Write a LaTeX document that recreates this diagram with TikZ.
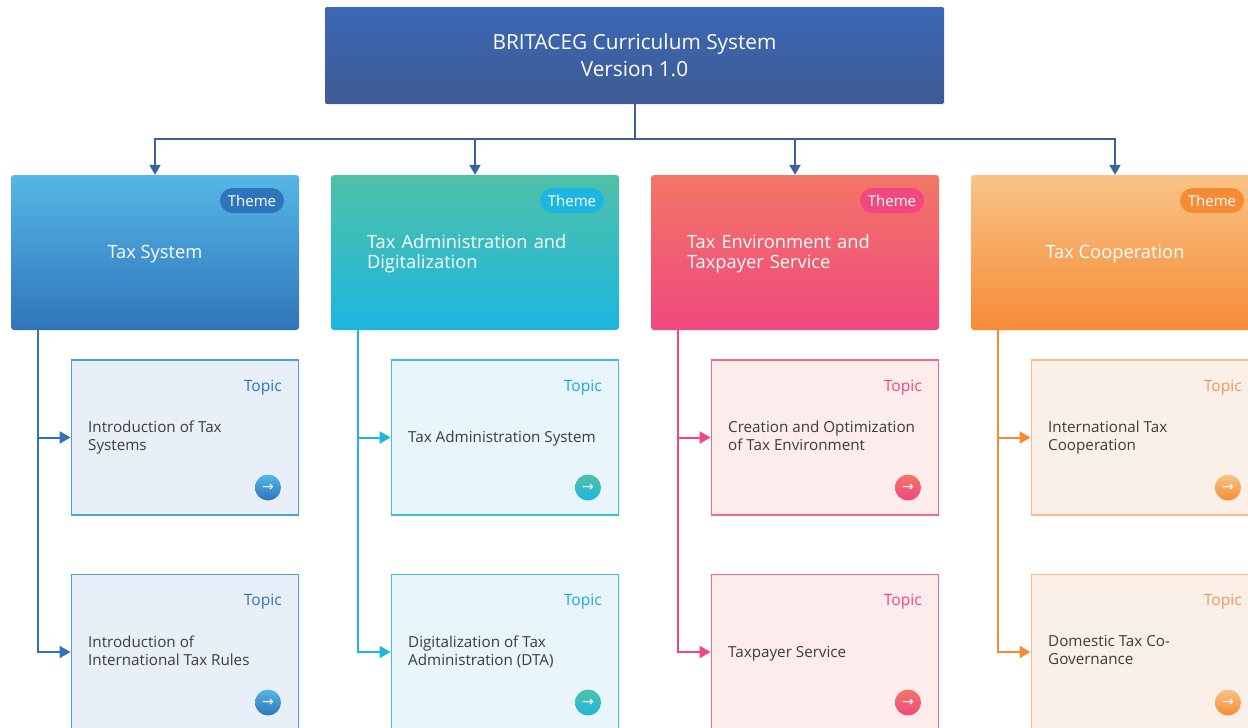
\documentclass[tikz,border=0pt]{standalone}
\usepackage{fontspec}
\setmainfont{Open Sans}
\newfontfamily\arrowfont{DejaVu Sans}
\usetikzlibrary{arrows.meta}
\definecolor{rootlight}{HTML}{3B68B5}
\definecolor{rootdark}{HTML}{3F5A93}
\definecolor{sysdark}{HTML}{2F74BB}
\definecolor{syslight}{HTML}{55B7E6}
\definecolor{sysfill}{HTML}{E9EFF9}
\definecolor{sysedge}{HTML}{4FA3D3}
\definecolor{admdark}{HTML}{1DB6E0}
\definecolor{admlight}{HTML}{4FC1A8}
\definecolor{admfill}{HTML}{E8F5FA}
\definecolor{admedge}{HTML}{3FC0D4}
\definecolor{envdark}{HTML}{F0487F}
\definecolor{envlight}{HTML}{F37666}
\definecolor{envfill}{HTML}{FCECEC}
\definecolor{envedge}{HTML}{EF6A88}
\definecolor{coodark}{HTML}{F68B36}
\definecolor{coolight}{HTML}{F8C387}
\definecolor{coofill}{HTML}{FBF0E8}
\definecolor{cooedge}{HTML}{F6BC8A}
\definecolor{busline}{HTML}{3C5F9E}
\definecolor{bodytext}{HTML}{3C3C3C}
\definecolor{admtag}{HTML}{1FA8D8}
\definecolor{cootag}{HTML}{F0955A}
\tikzset{
  rootbox/.style={rectangle,rounded corners=2pt,minimum width=619pt,minimum height=97pt,top color=rootlight,bottom color=rootdark,text=white,font=\fontsize{20.8}{27}\selectfont,align=center,execute at begin node={\rule{0pt}{21pt}},execute at end node={\rule[-1pt]{0pt}{1pt}}},
  themebox/.style={rectangle,rounded corners=3pt,minimum width=288pt,minimum height=155pt,top color=#1light,bottom color=#1dark,text=white,font=\fontsize{18.3}{20}\selectfont,execute at begin node={\rule{0pt}{16pt}},execute at end node={\rule[-4.5pt]{0pt}{4.5pt}}},
  pillbox/.style={rectangle,rounded corners=12.5pt,minimum width=64pt,minimum height=25pt,inner sep=0pt,fill=#1,text=white,font=\fontsize{15}{16}\selectfont},
  topicbox/.style={rectangle,minimum width=227pt,minimum height=155pt,fill=#1fill,draw=#1edge,line width=1.8pt},
  topiclabel/.style={anchor=east,inner sep=0pt,text=#1,font=\fontsize{15.6}{16}\selectfont},
  topictext/.style={anchor=west,inner sep=0pt,align=left,text=bodytext,font=\fontsize{15.2}{18}\selectfont,execute at begin node=\strut,execute at end node=\strut},
  iconball/.style={circle,minimum size=26pt,inner sep=0pt,top color=#1light,bottom color=#1dark,text=white,font=\arrowfont\fontsize{14}{14}\selectfont},
  busarrow/.style={draw=busline,line width=2pt,-{Triangle[length=10pt,width=11pt]}},
  branch/.style={draw=#1,line width=2pt,-{Triangle[length=11pt,width=12pt]}},
}
\begin{document}
\begin{tikzpicture}[x=1pt,y=-1pt]
\useasboundingbox(0,0)rectangle(1248,728);
\node[rootbox](root)at(634.5,55.5){BRITACEG Curriculum System\\Version 1.0};
\coordinate(bus)at(634.5,139);
%
\node[themebox=sys,align=center](sys)at(155,252.5){Tax System};
\node[themebox=adm,text width=216pt,align=left](adm)at(475,252.5){Tax Administration and\\Digitalization};
\node[themebox=env,text width=216pt,align=left](env)at(795,252.5){Tax Environment and\\Taxpayer Service};
\node[themebox=coo,align=center](coo)at(1115,252.5){Tax Cooperation};
\draw[busline,line width=2pt](root.south)--(bus);
\draw[busarrow](bus)-|(sys.north);
\draw[busarrow](bus)-|(adm.north);
\draw[busarrow](bus)-|(env.north);
\draw[busarrow](bus)-|(coo.north);
%
\node[pillbox=sysdark](syspill)at(252,200.5){Theme};
\node[pillbox=admdark](admpill)at(572,200.5){Theme};
\node[pillbox=envdark](envpill)at(892,200.5){Theme};
\node[pillbox=coodark](coopill)at(1212,200.5){Theme};
%
\node[topicbox=sys](sysa)at(185,437.5){};
\node[topicbox=sys](sysb)at(185,652){};
\node[topicbox=adm](adma)at(505,437.5){};
\node[topicbox=adm](admb)at(505,652){};
\node[topicbox=env](enva)at(825,437.5){};
\node[topicbox=env](envb)at(825,652){};
\node[topicbox=coo](cooa)at(1145,437.5){};
\node[topicbox=coo](coob)at(1145,652){};
%
\coordinate(sysroot)at(38,330);
\coordinate(admroot)at(358,330);
\coordinate(envroot)at(678,330);
\coordinate(cooroot)at(998,330);
\draw[branch=sysdark](sysroot)|-(sysa.west);
\draw[branch=sysdark](sysroot)|-(sysb.west);
\draw[branch=admdark](admroot)|-(adma.west);
\draw[branch=admdark](admroot)|-(admb.west);
\draw[branch=envdark](envroot)|-(enva.west);
\draw[branch=envdark](envroot)|-(envb.west);
\draw[branch=coodark](cooroot)|-(cooa.west);
\draw[branch=coodark](cooroot)|-(coob.west);
%
\node[topiclabel=sysdark](sysatag)at(282,387.5){Topic};
\node[topiclabel=sysdark](sysbtag)at(282,602){Topic};
\node[topiclabel=admtag](admatag)at(602,387.5){Topic};
\node[topiclabel=admtag](admbtag)at(602,602){Topic};
\node[topiclabel=envdark](envatag)at(922,387.5){Topic};
\node[topiclabel=envdark](envbtag)at(922,602){Topic};
\node[topiclabel=cootag](cooatag)at(1242,387.5){Topic};
\node[topiclabel=cootag](coobtag)at(1242,602){Topic};
%
\node[topictext](sysatext)at(88,438){Introduction of Tax\\Systems};
\node[topictext](sysbtext)at(88,653){Introduction of\\International Tax Rules};
\node[topictext](admatext)at(408,438.5){Tax Administration System};
\node[topictext](admbtext)at(408,653){Digitalization of Tax\\Administration (DTA)};
\node[topictext](envatext)at(728,438){Creation and Optimization\\of Tax Environment};
\node[topictext](envbtext)at(728,653.5){Taxpayer Service};
\node[topictext](cooatext)at(1048,438){International Tax\\Cooperation};
\node[topictext](coobtext)at(1048,653){Domestic Tax Co-\\Governance};
%
\node[iconball=sys](sysaicon)at(268,487.5){→};
\node[iconball=sys](sysbicon)at(268,702.5){→};
\node[iconball=adm](admaicon)at(588,487.5){→};
\node[iconball=adm](admbicon)at(588,702.5){→};
\node[iconball=env](envaicon)at(908,487.5){→};
\node[iconball=env](envbicon)at(908,702.5){→};
\node[iconball=coo](cooaicon)at(1228,487.5){→};
\node[iconball=coo](coobicon)at(1228,702.5){→};
\end{tikzpicture}
\end{document}
